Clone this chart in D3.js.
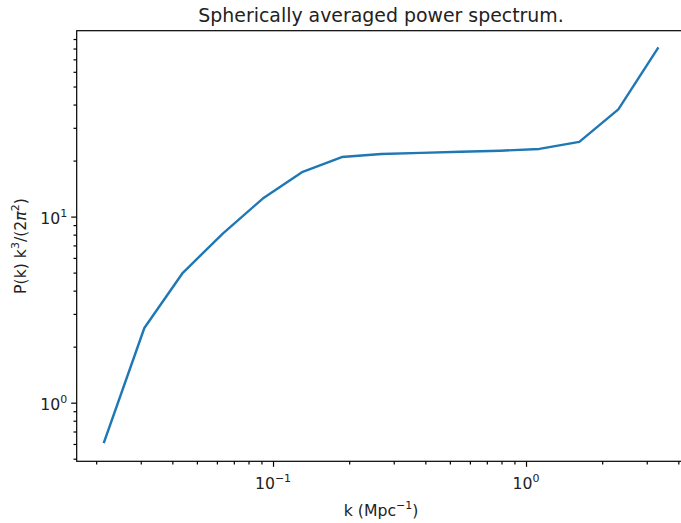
<!DOCTYPE html>
<html>
<head>
<meta charset="utf-8">
<script src="https://cdn.jsdelivr.net/npm/d3@7"></script>
<style>
  body { margin: 0; background: #fff; }
  svg { display: block; font-family: "DejaVu Sans", sans-serif; }
</style>
</head>
<body>
<div id="chart"></div>
<script>
"use strict"

// k bins and the spherically averaged power spectrum
const kValues = [0.0215, 0.0310, 0.0440, 0.0633, 0.0911, 0.131, 0.187, 0.268,
                 0.385, 0.552, 0.791, 1.129, 1.624, 2.317, 3.317];
const pValues = [0.615, 2.52, 4.99, 8.10, 12.5, 17.4, 20.9, 21.7,
                 22.0, 22.3, 22.6, 23.1, 25.2, 37.7, 80.2];

// major tick labels (exponents of ten)
const xMajor = [-1, 0];
const yMajor = [0, 1];

const W = 681, H = 523;
const margin = {top: 30.7, left: 76.7};
const plotW = 608.7, plotH = 430.6;
const fs = 15.7, fsSup = 11;

const svg = d3.select("#chart").append("svg")
  .attr("width", W).attr("height", H);

const g = svg.append("g")
  .attr("transform", "translate(" + margin.left + "," + margin.top + ")");

const x = d3.scaleLog()
  .domain([Math.pow(10, -1.776), Math.pow(10, 0.630)])
  .range([0, plotW]);
const y = d3.scaleLog()
  .domain([Math.pow(10, -0.315), Math.pow(10, 1.999)])
  .range([plotH, 0]);

// minor ticks: 2..9 times each decade inside the domain
function minorTicks(scale) {
  const [a, b] = scale.domain();
  const out = [];
  for (let e = Math.floor(Math.log10(a)); e <= Math.ceil(Math.log10(b)); e++) {
    for (let m = 2; m <= 9; m++) {
      const v = m * Math.pow(10, e);
      if (v >= a && v <= b) out.push(v);
    }
  }
  return out;
}

const tickColor = "#000";

// x axis
g.append("g")
  .attr("transform", "translate(0," + plotH + ")")
  .call(d3.axisBottom(x).tickValues(minorTicks(x)).tickSize(3.2).tickFormat(""))
  .call(a => a.select(".domain").remove());
g.append("g")
  .attr("transform", "translate(0," + plotH + ")")
  .call(d3.axisBottom(x).tickValues(xMajor.map(e => Math.pow(10, e))).tickSize(5.5).tickFormat(""))
  .call(a => a.select(".domain").remove());

// y axis
g.append("g")
  .call(d3.axisLeft(y).tickValues(minorTicks(y)).tickSize(3.2).tickFormat(""))
  .call(a => a.select(".domain").remove());
g.append("g")
  .call(d3.axisLeft(y).tickValues(yMajor.map(e => Math.pow(10, e))).tickSize(5.5).tickFormat(""))
  .call(a => a.select(".domain").remove());

g.selectAll(".tick line").attr("stroke", tickColor).attr("stroke-width", 1.2);

// spines
g.append("rect")
  .attr("x", 0).attr("y", 0).attr("width", plotW).attr("height", plotH)
  .attr("fill", "none").attr("stroke", tickColor).attr("stroke-width", 1.2);

// tick labels with superscripts
function powLabel(sel, e) {
  sel.append("tspan").text("10");
  sel.append("tspan")
    .attr("dy", -6.8).attr("font-size", fsSup)
    .text(e < 0 ? "\u2212" + (-e) : String(e));
}

xMajor.forEach(function(e) {
  const t = g.append("text")
    .attr("x", x(Math.pow(10, e)))
    .attr("y", plotH + 27.5)
    .attr("text-anchor", "middle")
    .attr("font-size", fs)
    .attr("fill", "#222");
  powLabel(t, e);
});

yMajor.forEach(function(e) {
  const t = g.append("text")
    .attr("x", -9.5)
    .attr("y", y(Math.pow(10, e)) + 7)
    .attr("text-anchor", "end")
    .attr("font-size", fs)
    .attr("fill", "#222");
  powLabel(t, e);
});

// the line
const line = d3.line()
  .x((d, i) => x(kValues[i]))
  .y((d, i) => y(pValues[i]));

g.append("path")
  .datum(kValues)
  .attr("d", line)
  .attr("fill", "none")
  .attr("stroke", "#1f77b4")
  .attr("stroke-width", 2.4)
  .attr("stroke-linejoin", "round")
  .attr("stroke-linecap", "square");

// title
svg.append("text")
  .attr("x", margin.left + plotW / 2)
  .attr("y", 21.5)
  .attr("text-anchor", "middle")
  .attr("font-size", 18.9)
  .attr("fill", "#222")
  .text("Spherically averaged power spectrum.");

// x label
const xl = svg.append("text")
  .attr("x", margin.left + plotW / 2)
  .attr("y", 516)
  .attr("text-anchor", "middle")
  .attr("font-size", fs)
  .attr("fill", "#222");
xl.append("tspan").text("k (Mpc");
xl.append("tspan").attr("dy", -6.8).attr("font-size", fsSup).text("\u22121");
xl.append("tspan").attr("dy", 6.8).text(")");

// y label
const yl = svg.append("text")
  .attr("transform", "translate(25.5," + (margin.top + plotH / 2) + ") rotate(-90)")
  .attr("text-anchor", "middle")
  .attr("font-size", fs)
  .attr("fill", "#222");
yl.append("tspan").text("P(k) k");
yl.append("tspan").attr("dy", -6.8).attr("font-size", fsSup).text("3");
yl.append("tspan").attr("dy", 6.8).text("/(2");
yl.append("tspan").attr("font-style", "italic").text("\u03c0");
yl.append("tspan").attr("dy", -6.8).attr("font-size", fsSup).text("2");
yl.append("tspan").attr("dy", 6.8).text(")");
</script>
</body>
</html>
